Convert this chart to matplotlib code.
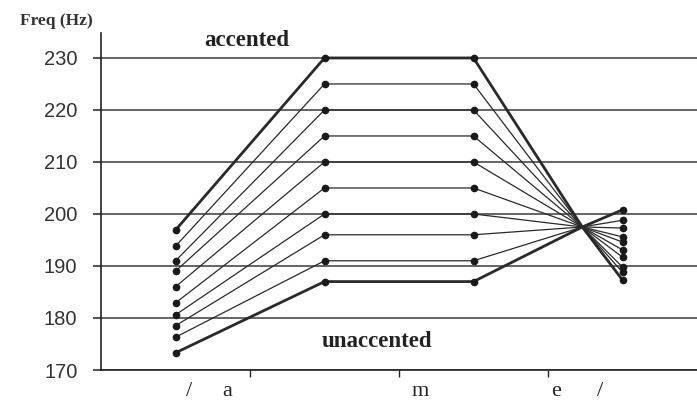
import numpy as np
import matplotlib.pyplot as plt

# ---------------------------------------------------------------------------
# Data (F0 contours over /a m e/, read from the figure)
# ---------------------------------------------------------------------------

x_pos = [0.5, 1.5, 2.5, 3.23, 3.5]   # vowel a, m onset, m offset, crossing, vowel e

start_hz = [196.9, 193.8, 191.0, 189.0, 186.0, 182.9, 180.6, 178.5, 176.3, 173.3]
peak_hz = [230, 225, 220, 215, 210, 205, 200, 196, 191, 187]
cross_hz = [197.5] * 10
end_hz = [187.3, 188.8, 189.8, 191.7, 193.1, 194.6, 195.6, 197.3, 198.8, 200.8]

y_ticks = [170, 180, 190, 200, 210, 220, 230]

# ---------------------------------------------------------------------------
# Plot
# ---------------------------------------------------------------------------

fig = plt.figure(figsize=(6.97, 4.07), dpi=100)
ax = fig.add_axes([101 / 697, 1 - 370 / 407, 596 / 697, (370 - 33) / 407])

ink = "#2a2a2a"
for i in range(len(peak_hz)):
    ys = [start_hz[i], peak_hz[i], peak_hz[i], cross_hz[i], end_hz[i]]
    lw = 2.0 if i in (0, len(peak_hz) - 1) else 0.9
    ax.plot(x_pos, ys, color=ink, linewidth=lw, zorder=3)
    ax.plot([x_pos[0], x_pos[1], x_pos[2], x_pos[4]],
            [ys[0], ys[1], ys[2], ys[4]],
            linestyle="none", marker="o", markersize=4.5,
            color="#1a1a1a", zorder=4)

ax.set_xlim(0, 4)
ax.set_ylim(170, 234.8)
ax.set_yticks(y_ticks)
ax.set_xticks([1, 2, 3])
ax.set_xticklabels([])
ax.grid(axis="y", color="#3a3a3a", linewidth=1.1)
ax.set_axisbelow(True)

for side in ("top", "right"):
    ax.spines[side].set_visible(False)
for side in ("left", "bottom"):
    ax.spines[side].set_color("#222222")
    ax.spines[side].set_linewidth(1.2)
ax.tick_params(axis="y", length=6, width=1.1, labelsize=14.5,
               colors="#222222", pad=11)
for lab in ax.get_yticklabels():
    lab.set_family("Liberation Sans")
    lab.set_color("#333333")
ax.tick_params(axis="x", length=5, width=1.0, colors="#222222")

serif = "Liberation Serif"
fig.text(20 / 697, 1 - 21 / 407, "Freq (Hz)", family=serif, fontsize=12.5,
         fontweight="bold", color="#333333", va="center")
ax.text(0.69, 233.3, "accented", family=serif, fontsize=16.5, fontweight="bold",
        color="#222222", va="center")
ax.text(1.48, 175.4, "unaccented", family=serif, fontsize=16.5, fontweight="bold",
        color="#222222", va="center")

for px, lab in [(189, "/"), (227, "a"), (420, "m"), (556, "e"), (600, "/")]:
    fig.text(px / 697, 1 - 392 / 407, lab, family=serif, fontsize=16,
             color="#222222", ha="center", va="center")

fig.savefig("out.png", dpi=100)
